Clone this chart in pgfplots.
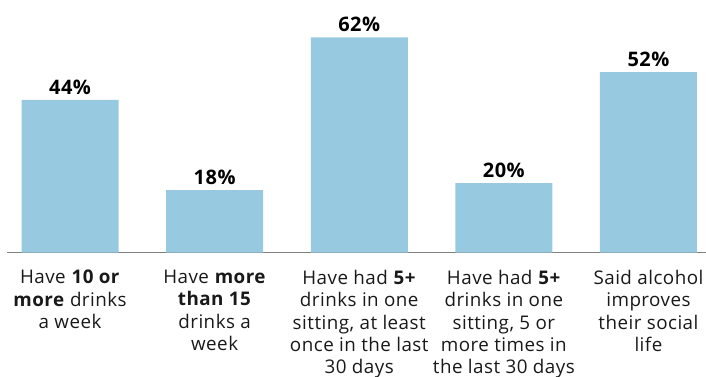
\documentclass[border=0pt]{standalone}
\usepackage{pgfplots}
\pgfplotsset{compat=1.18}
\usepackage{fontspec}
\setmainfont[LetterSpace=2.5]{Open Sans}
\definecolor{barblue}{HTML}{97C9E0}
\definecolor{basegray}{HTML}{7F7F7F}
\begin{document}
\begin{tikzpicture}
\begin{axis}[
  scale only axis,
  width=699bp, height=252.5bp,
  xmin=-0.436, xmax=4.398,
  ymin=0, ymax=72.8,
  axis y line=none,
  axis x line*=bottom,
  x axis line style={basegray, line width=1.5bp, -},
  xtick={0,1,2,3,4},
  major tick length=0pt,
  xticklabels={
    {Have \textbf{10 or}\\\textbf{more} drinks\\a week},
    {Have \textbf{more}\\\textbf{than 15}\\drinks a\\week},
    {Have had \textbf{5+}\\drinks in one\\sitting, at least\\once in the last\\30 days},
    {Have had \textbf{5+}\\drinks in one\\sitting, 5 or\\more times in\\the last 30 days},
    {Said alcohol\\improves\\their social\\life}},
  xticklabel style={align=center, anchor=north, inner sep=0pt, yshift=-17.5bp,
    font=\fontsize{18.8bp}{22.3bp}\selectfont, text=black!90},
  /pgf/number format/assume math mode=true,
  nodes near coords={\pgfmathprintnumber{\pgfplotspointmeta}\%},
  every node near coord/.append style={anchor=base, inner sep=0pt, yshift=5.8bp,
    font=\fontsize{20bp}{22bp}\selectfont\bfseries, text=black},
  clip=false,
]
\addplot[ybar, bar width=97bp, fill=barblue, draw=none] coordinates {
  (0,44) (1,18) (2,62) (3,20) (4,52)
};
\coordinate (bl) at (rel axis cs:0,0);
\coordinate (tr) at (rel axis cs:1,1);
\end{axis}
\pgfresetboundingbox
\path ([xshift=-7bp,yshift=-124.5bp]bl) rectangle (tr);
\end{tikzpicture}
\end{document}
